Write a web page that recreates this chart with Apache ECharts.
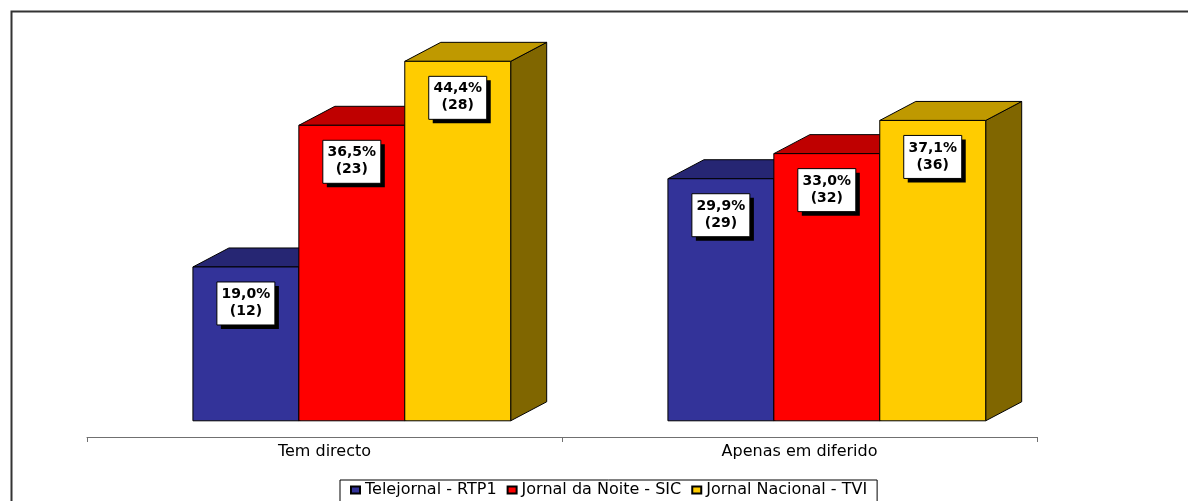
<!DOCTYPE html>
<html>
<head>
<meta charset="utf-8">
<script src="https://cdn.jsdelivr.net/npm/echarts@6/dist/echarts.min.js"></script>
<style>
    html, body { margin: 0; padding: 0; background: #fff; }
    #chart { width: 1188px; height: 501px; }
</style>
</head>
<body>
<div id="chart"></div>
<script>
// categorias e series
var categories = ['Tem directo', 'Apenas em diferido'];
var seriesNames = ['Telejornal - RTP1', 'Jornal da Noite - SIC', 'Jornal Nacional - TVI'];
var pctRTP1 = [19.0, 29.9];
var pctSIC = [36.5, 33.0];
var pctTVI = [44.4, 37.1];
var nRTP1 = [12, 29];
var nSIC = [23, 32];
var nTVI = [28, 36];

var frontColors = ['#333399', '#FF0000', '#FFCC00'];
var topColors = ['#262673', '#BF0000', '#BF9900'];
var sideColors = ['#1A1A4D', '#800000', '#806600'];
var FONT = '"DejaVu Sans", Arial, sans-serif';

var chart = echarts.init(document.getElementById('chart'));

function fmtPct(v) {
    return v.toFixed(1).replace('.', ',') + '%';
}

function makeRender(si) {
    return function (params, api) {
        var cat = api.value(0);
        var val = api.value(1);
        var n = api.value(2);
        var top = api.coord([cat, val]);
        var base = api.coord([cat, 0]);
        var band = api.size([1, 0])[0];
        var w = band * 0.223;
        var x0 = top[0] - band * 0.277 + si * w;
        var yt = top[1], yb = base[1];
        var dx = 36, dy = 19;
        var edge = {stroke: '#000', lineWidth: 1};
        var bx = x0 + w / 2 - 29, by = yt + 15;
        return {
            type: 'group',
            children: [
                {
                    type: 'polygon',
                    shape: {points: [[x0 + w, yt], [x0 + w + dx, yt - dy], [x0 + w + dx, yb - dy], [x0 + w, yb]]},
                    style: Object.assign({fill: sideColors[si]}, edge)
                },
                {
                    type: 'polygon',
                    shape: {points: [[x0, yt], [x0 + dx, yt - dy], [x0 + w + dx, yt - dy], [x0 + w, yt]]},
                    style: Object.assign({fill: topColors[si]}, edge)
                },
                {
                    type: 'rect',
                    shape: {x: x0, y: yt, width: w, height: yb - yt},
                    style: Object.assign({fill: frontColors[si]}, edge)
                },
                // caixa da etiqueta com sombra
                {
                    type: 'rect',
                    shape: {x: bx + 4, y: by + 4, width: 58, height: 43},
                    style: {fill: '#000'}
                },
                {
                    type: 'rect',
                    shape: {x: bx, y: by, width: 58, height: 43},
                    style: {fill: '#fff', stroke: '#000', lineWidth: 1}
                },
                {
                    type: 'text',
                    x: bx + 29,
                    y: by + 21,
                    style: {
                        text: fmtPct(val) + '\n(' + n + ')',
                        fill: '#000',
                        font: 'bold 14px ' + FONT,
                        lineHeight: 17,
                        align: 'center',
                        verticalAlign: 'middle'
                    }
                }
            ]
        };
    };
}

var pctList = [pctRTP1, pctSIC, pctTVI];
var nList = [nRTP1, nSIC, nTVI];
var series = [];
for (var s = 0; s < 3; s++) {
    var data = [];
    for (var i = 0; i < categories.length; i++) {
        data.push([i, pctList[s][i], nList[s][i]]);
    }
    series.push({
        name: seriesNames[s],
        type: 'custom',
        z: 2 + s,
        renderItem: makeRender(s),
        itemStyle: {color: frontColors[s], borderColor: '#000', borderWidth: 1},
        encode: {x: 0, y: 1},
        data: data
    });
}

var option = {
    animation: false,
    textStyle: {fontFamily: FONT},
    graphic: [{
        type: 'rect',
        left: 9,
        top: 9,
        shape: {width: 1300, height: 600},
        style: {fill: 'none', stroke: '#333', lineWidth: 2},
        silent: true
    }],
    legend: {
        data: seriesNames,
        top: 480,
        left: 340,
        icon: 'rect',
        itemWidth: 9,
        itemHeight: 7,
        itemGap: 10,
        padding: [2, 10, 4, 10],
        borderColor: '#000',
        borderWidth: 1,
        textStyle: {color: '#000', fontSize: 16, fontFamily: FONT}
    },
    // o eixo fica 16px abaixo da base das barras
    grid: {left: 87, right: 151, top: 16, bottom: 64},
    xAxis: {
        type: 'category',
        data: categories,
        boundaryGap: true,
        axisLine: {onZero: false, lineStyle: {color: '#707070', width: 1}},
        axisTick: {show: true, length: 5, lineStyle: {color: '#707070'}},
        axisLabel: {color: '#000', fontSize: 16, fontFamily: FONT, margin: 7}
    },
    yAxis: {
        type: 'value',
        min: -2,
        max: 50,
        show: false
    },
    series: series
};

chart.setOption(option);
</script>
</body>
</html>
